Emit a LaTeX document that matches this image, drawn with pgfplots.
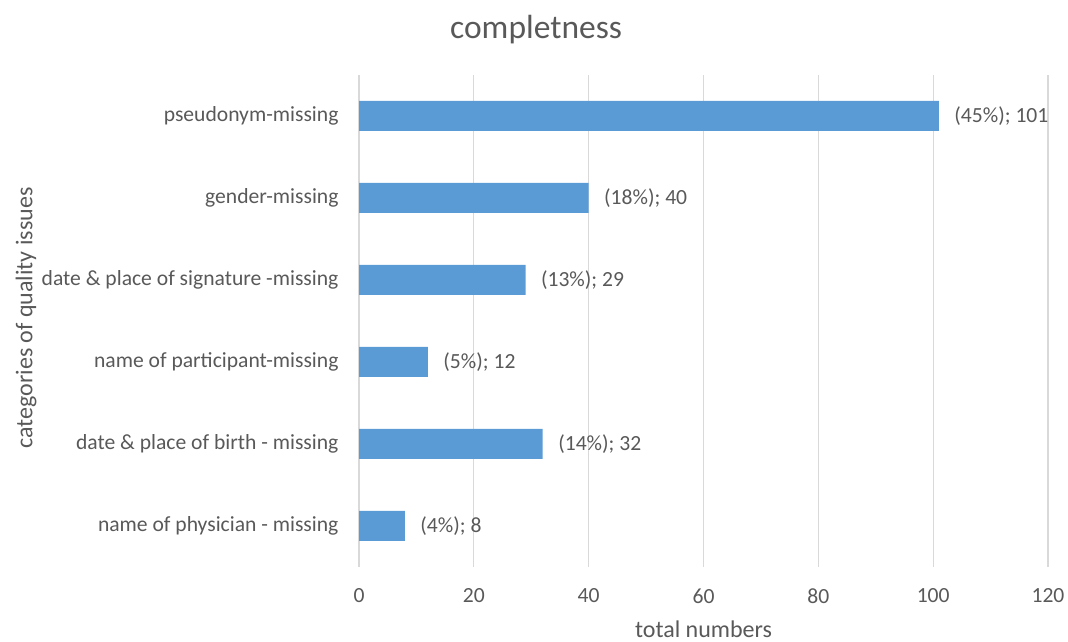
\documentclass[border=0pt]{standalone}
\usepackage{pgfplots}
\pgfplotsset{compat=1.18}
\usepackage{fontspec}
\setmainfont{Carlito}
\definecolor{barblue}{HTML}{5B9BD5}
\definecolor{txtgray}{HTML}{595959}
\definecolor{gridgray}{HTML}{D9D9D9}
\begin{document}
\begin{tikzpicture}
\path[use as bounding box] (0,0) rectangle (1068bp,642bp);
\begin{axis}[
  at={(359bp,75bp)}, anchor=south west,
  scale only axis, width=689bp, height=492bp,
  xbar, bar width=30bp,
  xmin=0, xmax=120, xtick={0,20,40,60,80,100,120},
  ymin=-0.5, ymax=5.5,
  ytick={0,1,2,3,4,5},
  yticklabels={name of physician - missing, date \& place of birth - missing, name of participant-missing, date \& place of signature -missing, gender-missing, pseudonym-missing},
  axis line style={draw=none},
  major tick length=0pt,
  xmajorgrids, major grid style={gridgray, line width=1.2bp},
  ymajorgrids=false,
  tick label style={font=\fontsize{21.6bp}{24bp}\selectfont, text=txtgray},
  /pgf/number format/assume math mode=true,
  yticklabel style={xshift=-17bp},
  xticklabel style={yshift=-18bp},
  xlabel={total numbers},
  ylabel={categories of quality issues},
  label style={font=\fontsize{24bp}{26bp}\selectfont, text=txtgray},
  xlabel style={at={(0.5,0)}, anchor=center, yshift=-62bp},
  ylabel style={at={(0,0.5)}, anchor=center, yshift=333bp, xshift=3bp},
  title={completness},
  title style={font=\fontsize{33.5bp}{36bp}\selectfont, text=txtgray, at={(0.257,1)}, anchor=center, yshift=39bp},
  point meta=explicit symbolic,
  nodes near coords={(\pgfplotspointmeta\%); \pgfmathprintnumber[assume math mode=true]{\pgfkeysvalueof{/data point/x}}},
  nodes near coords style={font=\fontsize{21.6bp}{24bp}\selectfont, text=txtgray, anchor=west, xshift=12bp},
  clip=false,
]
\addplot[fill=barblue, draw=none] coordinates {
(8,0) [4]
(32,1) [14]
(12,2) [5]
(29,3) [13]
(40,4) [18]
(101,5) [45]
};
\end{axis}
\end{tikzpicture}
\end{document}
